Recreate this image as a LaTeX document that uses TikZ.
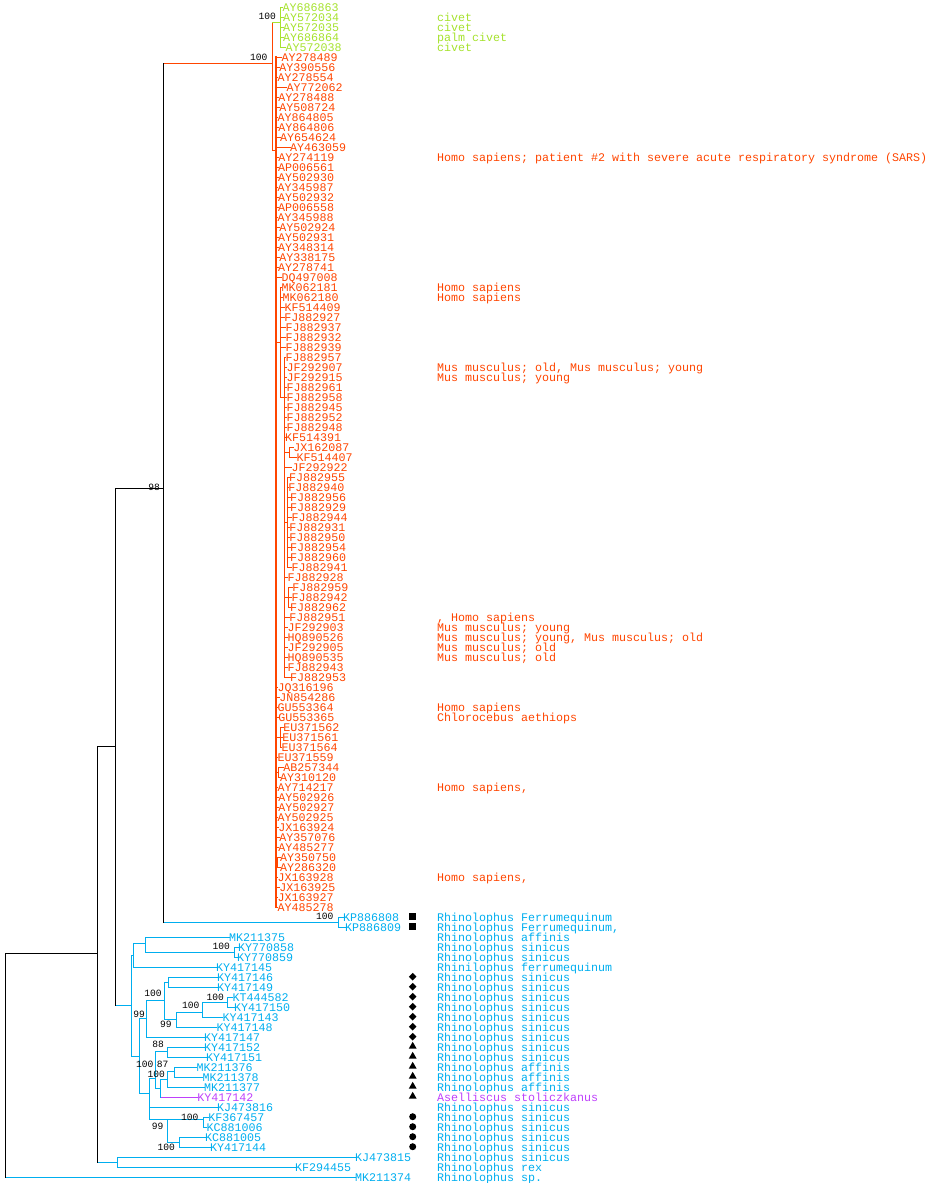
\documentclass[tikz,border=0pt]{standalone}
\usepackage{fontspec}
\newfontfamily\monof{Liberation Mono}
\usetikzlibrary{shapes.geometric}
\definecolor{cgrn}{RGB}{166,226,46}
\definecolor{cred}{RGB}{255,69,0}
\definecolor{cblu}{RGB}{0,174,239}
\definecolor{cpur}{RGB}{190,64,251}
\newcommand\treeh[3]{\draw[#1] (#2 |- #3) -- (#3);}
\newcommand\treev[4]{\draw[#1] (#2 |- #3) -- (#2 |- #4);}
\begin{document}
\begin{tikzpicture}[x=1pt,y=-1pt,line width=1pt,line cap=rect,
  lf/.style={anchor=west,inner sep=0pt,outer sep=0pt,text height=8pt,text depth=0pt,font=\monof\fontsize{11.67}{12}\selectfont},
  bs/.style={anchor=base east,inner sep=0pt,outer sep=0pt,text=black,font=\monof\fontsize{9.6}{10}\selectfont},
  sq/.style={rectangle,fill=black,draw=none,minimum size=6.5pt,inner sep=0pt},
  dia/.style={diamond,fill=black,draw=none,minimum size=8pt,inner sep=0pt},
  tri/.style={regular polygon,regular polygon sides=3,fill=black,draw=none,minimum size=9pt,inner sep=0pt},
  dot/.style={circle,fill=black,draw=none,minimum size=7pt,inner sep=0pt}]
\useasboundingbox (0,0) rectangle (929,1183);
% internal nodes
\coordinate (root) at (5,1065);
\coordinate (N97) at (97,953);
\coordinate (N115) at (115,746);
\coordinate (N163) at (163,488);
\coordinate (N117) at (117,1162);
\coordinate (R0) at (272,63);
\coordinate (G) at (280,22);
\coordinate (Rm) at (276,150);
\coordinate (Ra) at (280,342);
\coordinate (Rb) at (284,397);
\coordinate (Rj) at (289,452);
\coordinate (Rc) at (287,522);
\coordinate (Rd) at (288,597);
\coordinate (Re) at (280,737);
\coordinate (Rf) at (278,772);
\coordinate (Rg) at (277,862);
\coordinate (KPn) at (338,922);
\coordinate (NB) at (131,1005);
\coordinate (nA) at (133,955);
\coordinate (nB) at (145,943);
\coordinate (nK) at (234,952);
\coordinate (nJ) at (139,1056);
\coordinate (nI) at (146,1018);
\coordinate (nD) at (164,1000);
\coordinate (nE) at (168,982);
\coordinate (nF) at (176,1019);
\coordinate (nG) at (202,1012);
\coordinate (nH) at (227,1002);
\coordinate (nQ) at (149,1093);
\coordinate (nP) at (155,1078);
\coordinate (nL) at (167,1051);
\coordinate (nO) at (160,1088);
\coordinate (nN) at (167,1079);
\coordinate (nM) at (174,1071);
\coordinate (nS) at (167,1119);
\coordinate (nT) at (203,1119);
\coordinate (nU) at (179,1142);
% green leaves
\foreach \nm/\r/\tx/\pa in {AY686863/0/282.7/G,AY572034/1/283/G,AY572035/2/283/G,AY686864/3/283/G,AY572038/4/285.7/G}{
  \node[lf,text=cgrn] (\nm) at (\tx,{7+10*\r}) {\nm};
  \draw[cgrn] (\pa |- \nm.west) -- (\nm.west);
}
% red leaves
\foreach \nm/\r/\tx/\pa in {AY278489/5/281.7/Rm,AY390556/6/279.3/Rm,AY278554/7/277.7/Rm,AY772062/8/286.7/Rm,
  AY278488/9/278.3/Rm,AY508724/10/279.3/Rm,AY864805/11/277.7/Rm,AY864806/12/278.3/Rm,AY654624/13/280/Rm,
  AY463059/14/290/Rm,AY274119/15/278.3/Rm,AP006561/16/278/Rm,AY502930/17/278/Rm,AY345987/18/277.7/Rm,
  AY502932/19/278/Rm,AP006558/20/278/Rm,AY345988/21/277.7/Rm,AY502924/22/279.3/Rm,AY502931/23/278/Rm,
  AY348314/24/278/Rm,AY338175/25/279.3/Rm,AY278741/26/278/Rm,DQ497008/27/281.7/Rm,
  MK062181/28/281.7/Ra,MK062180/29/282.7/Ra,KF514409/30/284.5/Ra,FJ882927/31/284.3/Ra,FJ882937/32/285.7/Ra,
  FJ882932/33/285.7/Ra,FJ882939/34/285.7/Ra,
  FJ882957/35/285.7/Rb,JF292907/36/286.7/Rb,JF292915/37/286.7/Rb,FJ882961/38/286.7/Rb,FJ882958/39/286.7/Rb,
  FJ882945/40/286.7/Rb,FJ882952/41/286.7/Rb,FJ882948/42/286.7/Rb,KF514391/43/285/Rb,
  JX162087/44/293.3/Rj,KF514407/45/296.7/Rj,JF292922/46/291.7/Rb,
  FJ882955/47/289/Rc,FJ882940/48/288.3/Rc,FJ882956/49/290/Rc,FJ882929/50/290/Rc,FJ882944/51/291.7/Rc,
  FJ882931/52/289.3/Rc,FJ882950/53/289.3/Rc,FJ882954/54/290/Rc,FJ882960/55/290/Rc,FJ882941/56/291.7/Rc,
  FJ882928/57/287.7/Rb,FJ882959/58/292.3/Rd,FJ882942/59/291.7/Rd,FJ882962/60/290/Rd,
  FJ882951/61/289.3/Rb,JF292903/62/287.7/Rb,HQ890526/63/287.7/Rb,JF292905/64/287.7/Rb,HQ890535/65/287.7/Rb,
  FJ882943/66/287.7/Rb,FJ882953/67/290/Rb,
  JQ316196/68/277.7/Rm,JN854286/69/279.3/Rm,GU553364/70/277.7/Rm,GU553365/71/278.3/Rm,
  EU371562/72/283.3/Re,EU371561/73/282.3/Re,EU371564/74/281.7/Re,EU371559/75/277.7/Rm,
  AB257344/76/283.3/Rf,AY310120/77/280/Rf,AY714217/78/277.7/Rm,AY502926/79/278.3/Rm,AY502927/80/278.3/Rm,
  AY502925/81/277.7/Rm,JX163924/82/278.3/Rm,AY357076/83/279.3/Rm,AY485277/84/278.3/Rm,
  AY350750/85/280/Rg,AY286320/86/280/Rg,JX163928/87/277.7/Rm,JX163925/88/279.3/Rm,JX163927/89/277.7/Rm,
  AY485278/90/277.7/Rm}{
  \node[lf,text=cred] (\nm) at (\tx,{7+10*\r}) {\nm};
  \draw[cred] (\pa |- \nm.west) -- (\nm.west);
}
% blue leaves
\foreach \nm/\r/\tx/\pa in {KP886808/91/343/KPn,KP886809/92/345/KPn,MK211375/93/229/nB,KY770858/94/238/nK,
  KY770859/95/237/nK,KY417145/96/216/nA,KY417146/97/217/nE,KY417149/98/217/nE,KT444582/99/232.7/nH,
  KY417150/100/234/nH,KY417143/101/222.7/nG,KY417148/102/216.7/nF,KY417147/103/204/nI,KY417152/104/204/nL,
  KY417151/105/206/nL,MK211376/106/196.7/nM,MK211378/107/202.7/nM,MK211377/108/204/nN,KJ473816/110/217/nQ,
  KF367457/111/208.3/nT,KC881006/112/206.7/nT,KC881005/113/205/nU,KY417144/114/210/nU,
  KJ473815/115/355/N117,KF294455/116/295/N117,MK211374/117/355/root}{
  \node[lf,text=cblu] (\nm) at (\tx,{7+10*\r}) {\nm};
  \draw[cblu] (\pa |- \nm.west) -- (\nm.west);
}
\node[lf,text=cpur] (KY417142) at (197.3,1097) {KY417142};
\draw[cpur] (nO |- KY417142.west) -- (KY417142.west);
% red/green clade
\treev{cred}{R0}{G}{Rm}
\treeh{cgrn}{R0}{G}
\treeh{cred}{R0}{Rm}
\treev{cgrn}{G}{AY686863.west}{AY572038.west}
\treev{cred,line width=1.8pt}{Rm}{AY278489.west}{AY485278.west}
\treev{cred}{Ra}{MK062181.west}{Rb}
\treeh{cred}{Rm}{Ra}
\treev{cred}{Rb}{FJ882957.west}{FJ882953.west}
\treeh{cred}{Ra}{Rb}
\treev{cred}{Rj}{JX162087.west}{KF514407.west}
\treeh{cred}{Rb}{Rj}
\treev{cred}{Rc}{FJ882955.west}{FJ882941.west}
\treeh{cred}{Rb}{Rc}
\treev{cred}{Rd}{FJ882959.west}{FJ882962.west}
\treeh{cred}{Rb}{Rd}
\treev{cred}{Re}{EU371562.west}{EU371564.west}
\treeh{cred}{Rm}{Re}
\treev{cred}{Rf}{AB257344.west}{AY310120.west}
\treeh{cred}{Rm}{Rf}
\treev{cred}{Rg}{AY350750.west}{AY286320.west}
\treeh{cred}{Rm}{Rg}
% blue clade
\treev{cblu}{KPn}{KP886808.west}{KP886809.west}
\treev{cblu}{N117}{KJ473815.west}{KF294455.west}
\treev{cblu}{NB}{nA}{nJ}
\treeh{cblu}{NB}{nA}
\treeh{cblu}{NB}{nJ}
\treev{cblu}{nA}{nB}{KY417145.west}
\treeh{cblu}{nA}{nB}
\treev{cblu}{nB}{MK211375.west}{nK}
\treeh{cblu}{nB}{nK}
\treev{cblu}{nK}{KY770858.west}{KY770859.west}
\treev{cblu}{nJ}{nI}{nQ}
\treeh{cblu}{nJ}{nI}
\treeh{cblu}{nJ}{nQ}
\treev{cblu}{nI}{nD}{KY417147.west}
\treeh{cblu}{nI}{nD}
\treev{cblu}{nD}{nE}{nF}
\treeh{cblu}{nD}{nE}
\treeh{cblu}{nD}{nF}
\treev{cblu}{nE}{KY417146.west}{KY417149.west}
\treev{cblu}{nF}{nG}{KY417148.west}
\treeh{cblu}{nF}{nG}
\treev{cblu}{nG}{nH}{KY417143.west}
\treeh{cblu}{nG}{nH}
\treev{cblu}{nH}{KT444582.west}{KY417150.west}
\treev{cblu}{nQ}{nP}{nS}
\treeh{cblu}{nQ}{nP}
\treeh{cblu}{nQ}{nS}
\treev{cblu}{nP}{nL}{nO}
\treeh{cblu}{nP}{nL}
\treeh{cblu}{nP}{nO}
\treev{cblu}{nL}{KY417152.west}{KY417151.west}
\treev{cblu}{nO}{nN}{KY417142.west}
\treeh{cblu}{nO}{nN}
\treev{cblu}{nN}{nM}{MK211377.west}
\treeh{cblu}{nN}{nM}
\treev{cblu}{nM}{MK211376.west}{MK211378.west}
\treev{cblu}{nS}{nT}{nU}
\treeh{cblu}{nS}{nT}
\treeh{cblu}{nS}{nU}
\treev{cblu}{nT}{KF367457.west}{KC881006.west}
\treev{cblu}{nU}{KC881005.west}{KY417144.west}
% backbone (drawn last)
\treeh{cblu}{N97}{N117}
\treeh{cblu}{N115}{NB}
\treeh{cblu}{N163}{KPn}
\treeh{cred}{N163}{R0}
\treev{black}{root}{N97}{MK211374.west}
\treeh{black}{root}{N97}
\treev{black}{N97}{N115}{N117}
\treeh{black}{N97}{N115}
\treev{black}{N115}{N163}{NB}
\treeh{black}{N115}{N163}
\treev{black}{N163}{R0}{KPn}
% support values
\node[bs] (b1) at (276,19.3) {100};
\node[bs] (b2) at (267.3,60.7) {100};
\node[bs] (b3) at (160,490) {98};
\node[bs] (b4) at (333.3,919.3) {100};
\node[bs] (b5) at (230,949.3) {100};
\node[bs] (b6) at (161.7,996.7) {100};
\node[bs] (b7) at (224,1000) {100};
\node[bs] (b8) at (199.3,1008) {100};
\node[bs] (b9) at (145,1017) {99};
\node[bs] (b10) at (171.7,1027) {99};
\node[bs] (b11) at (164,1047.3) {88};
\node[bs] (b12) at (153.3,1067.3) {100};
\node[bs] (b13) at (168.3,1067.3) {87};
\node[bs] (b14) at (165,1077.3) {100};
\node[bs] (b15) at (198.3,1120) {100};
\node[bs] (b16) at (163.3,1129) {99};
\node[bs] (b17) at (175,1150.7) {100};
% annotations
\node[lf,text=cgrn] (a1) at (437,17) {civet};
\node[lf,text=cgrn] (a2) at (437,27) {civet};
\node[lf,text=cgrn] (a3) at (437,37) {palm civet};
\node[lf,text=cgrn] (a4) at (437,47) {civet};
\node[lf,text=cred] (a15) at (437,157) {Homo sapiens; patient \#2 with severe acute respiratory syndrome (SARS)};
\node[lf,text=cred] (a28) at (437,287) {Homo sapiens};
\node[lf,text=cred] (a29) at (437,297) {Homo sapiens};
\node[lf,text=cred] (a36) at (437,367) {Mus musculus; old, Mus musculus; young};
\node[lf,text=cred] (a37) at (437,377) {Mus musculus; young};
\node[lf,text=cred] (a61) at (437,617) {, Homo sapiens};
\node[lf,text=cred] (a62) at (437,627) {Mus musculus; young};
\node[lf,text=cred] (a63) at (437,637) {Mus musculus; young, Mus musculus; old};
\node[lf,text=cred] (a64) at (437,647) {Mus musculus; old};
\node[lf,text=cred] (a65) at (437,657) {Mus musculus; old};
\node[lf,text=cred] (a70) at (437,707) {Homo sapiens};
\node[lf,text=cred] (a71) at (437,717) {Chlorocebus aethiops};
\node[lf,text=cred] (a78) at (437,787) {Homo sapiens,};
\node[lf,text=cred] (a87) at (437,877) {Homo sapiens,};
\node[lf,text=cblu] (a91) at (437,917) {Rhinolophus Ferrumequinum};
\node[lf,text=cblu] (a92) at (437,927) {Rhinolophus Ferrumequinum,};
\node[lf,text=cblu] (a93) at (437,937) {Rhinolophus affinis};
\node[lf,text=cblu] (a94) at (437,947) {Rhinolophus sinicus};
\node[lf,text=cblu] (a95) at (437,957) {Rhinolophus sinicus};
\node[lf,text=cblu] (a96) at (437,967) {Rhinilophus ferrumequinum};
\foreach \r in {97,...,105,110,111,112,113,114,115}{
  \node[lf,text=cblu] (a\r) at (437,{7+10*\r}) {Rhinolophus sinicus};
}
\foreach \r in {106,107,108}{
  \node[lf,text=cblu] (a\r) at (437,{7+10*\r}) {Rhinolophus affinis};
}
\node[lf,text=cpur] (a109) at (437,1097) {Aselliscus stoliczkanus};
\node[lf,text=cblu] (a116) at (437,1167) {Rhinolophus rex};
\node[lf,text=cblu] (a117) at (437,1177) {Rhinolophus sp.};
% symbols
\node[sq] (s91) at (412.7,916.7) {};
\node[sq] (s92) at (412.7,926.7) {};
\foreach \r in {97,...,103}{\node[dia] (s\r) at (412.7,{6.7+10*\r}) {};}
\foreach \r in {104,...,109}{\node[tri] (s\r) at (412.7,{6.3+10*\r}) {};}
\foreach \r in {111,...,114}{\node[dot] (s\r) at (412.7,{6.7+10*\r}) {};}
\end{tikzpicture}
\end{document}
